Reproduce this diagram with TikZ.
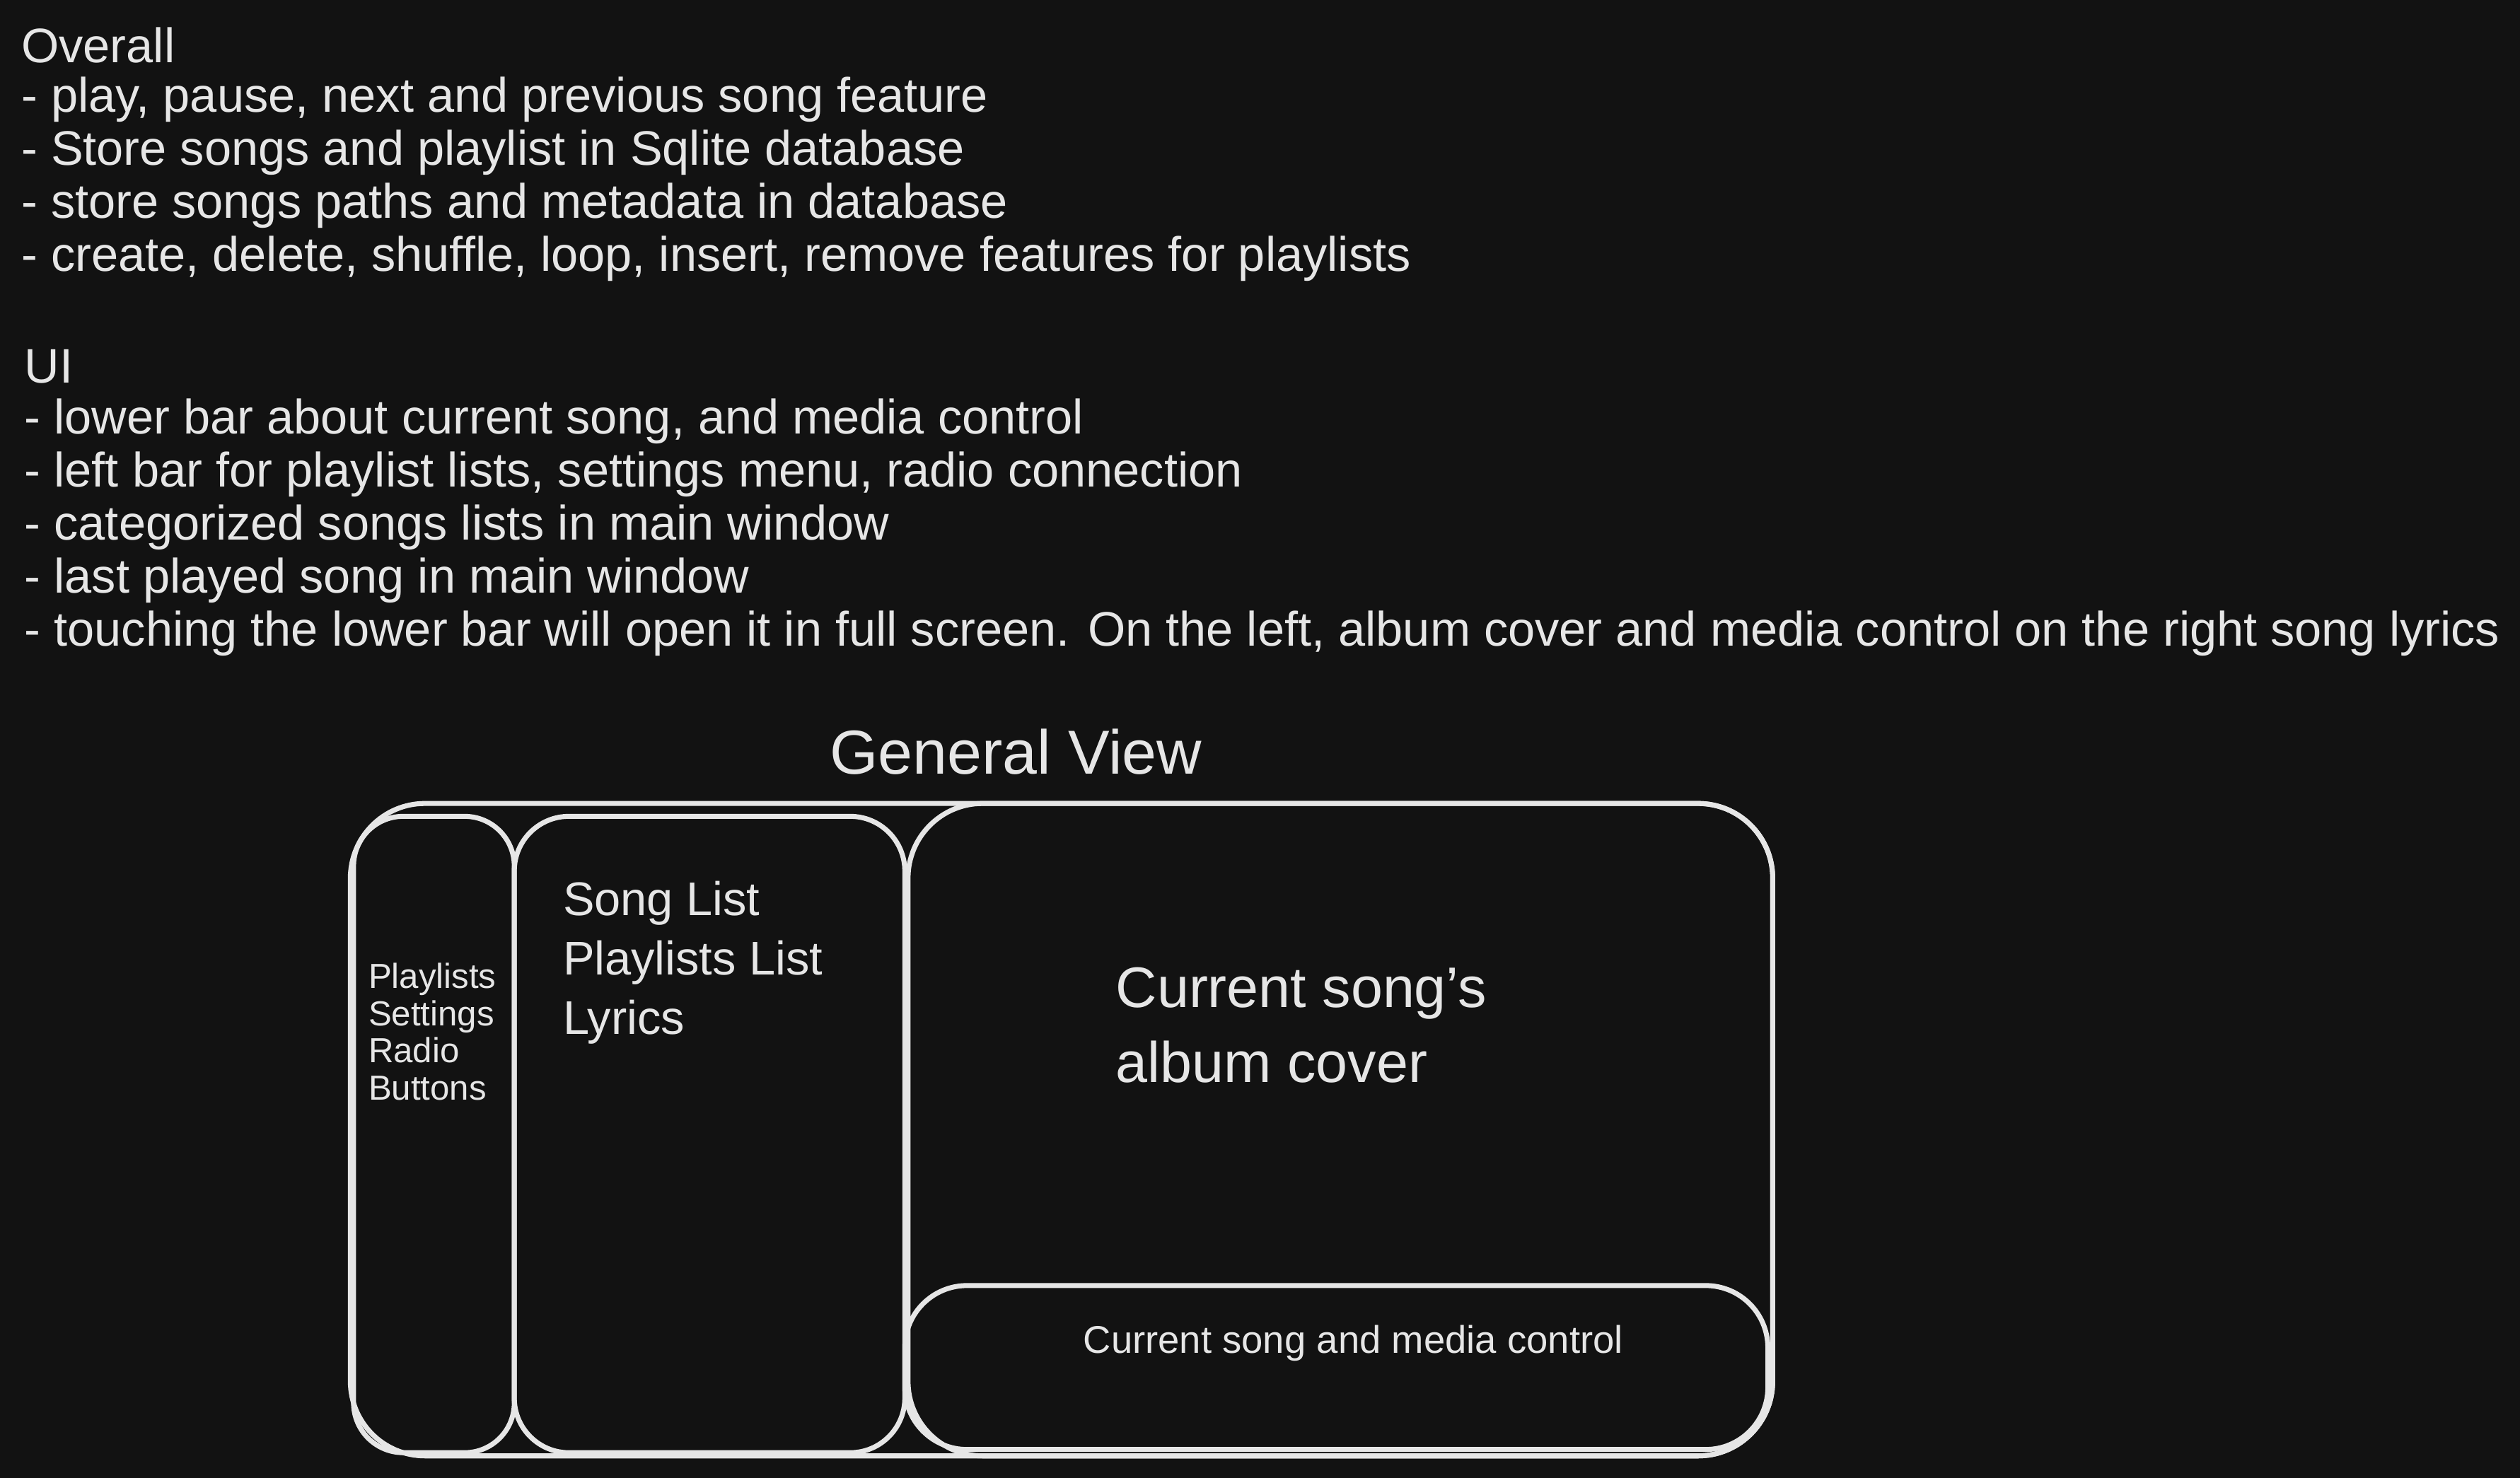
\documentclass[tikz,border=0pt]{standalone}
\usepackage{fontspec}
\setmainfont{Liberation Sans}
\definecolor{bg}{HTML}{121212}
\definecolor{fg}{HTML}{E6E6E6}
\begin{document}
\begin{tikzpicture}[x=0.022724cm,y=-0.022724cm,
  txt/.style={anchor=west,text=fg,inner sep=0pt,font=\fontsize{19.5}{22}\selectfont},
  small/.style={anchor=west,text=fg,inner sep=0pt,font=\fontsize{14}{16}\selectfont},
  box/.style={draw=fg,line width=2pt}]
\fill[bg] (0,0) rectangle (1568,919.7);
\useasboundingbox (0,0) rectangle (1568,919.7);
\node[txt] (t0) at (13,28) {Overall};
\node[txt] (t1) at (13,62) {- play, pause, next and previous song feature};
\node[txt] (t2) at (13,95) {- Store songs and playlist in Sqlite database};
\node[txt] (t3) at (13,128) {- store songs paths and metadata in database};
\node[txt] (t4) at (13,161) {- create, delete, shuffle, loop, insert, remove features for playlists};
\node[txt] (u0) at (15,228) {UI};
\node[txt] (u1) at (15,262) {- lower bar about current song, and media control};
\node[txt] (u2) at (15,295) {- left bar for playlist lists, settings menu, radio connection};
\node[txt] (u3) at (15,328) {- categorized songs lists in main window};
\node[txt] (u4) at (15,361) {- last played song in main window};
\node[txt] (u5) at (15,394) {- touching the lower bar will open it in full screen. On the left, album cover and media control on the right song lyrics};
\node[text=fg,inner sep=0pt,font=\fontsize{25}{30}\selectfont] (gv) at (632,468) {General View};
\draw[box,rounded corners=30] (218,500) rectangle (1103,906);
\draw[box,rounded corners=20] (220,508) rectangle (320,904);
\draw[box,rounded corners=22] (320,508) rectangle (563,904);
\draw[box,rounded corners=30] (565,500) rectangle (1103,906);
\draw[box,rounded corners=25] (563,800) rectangle (1100,902);
\node[small,align=left] (lb) at (229,642) {Playlists\\[-1pt]Settings\\[-1pt]Radio\\[-1pt]Buttons};
\node[anchor=west,text=fg,inner sep=0pt,align=left,font=\fontsize{19}{24}\selectfont] (ml) at (350,599) {Song List\\Playlists List\\Lyrics};
\node[anchor=west,text=fg,inner sep=0pt,align=left,font=\fontsize{23}{30}\selectfont] (ac) at (694,638) {Current song's\\album cover};
\node[text=fg,inner sep=0pt,font=\fontsize{15.5}{19}\selectfont] (mc) at (842,836) {Current song and media control};
\end{tikzpicture}
\end{document}
